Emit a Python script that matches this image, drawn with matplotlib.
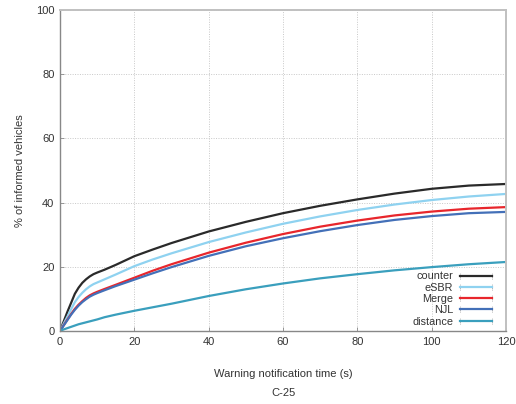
import matplotlib
matplotlib.use("Agg")
import matplotlib.pyplot as plt
from matplotlib.lines import Line2D
from matplotlib.legend_handler import HandlerBase

plt.rcParams['font.family'] = ['Liberation Sans', 'DejaVu Sans']

t = [0, 1, 2, 3, 4, 5, 6, 7, 8, 9, 10, 12, 15, 20, 25, 30, 40, 50, 60, 70, 80, 90, 100, 110, 120]
counter = [0, 3.0, 6.0, 8.8, 11.6, 13.5, 15.0, 16.1, 17.0, 17.7, 18.2, 19.1, 20.6, 23.3, 25.4, 27.4,
           31.0, 34.0, 36.7, 39.0, 41.0, 42.8, 44.3, 45.3, 45.8]
esbr = [0, 2.3, 4.5, 6.8, 9.0, 10.6, 11.9, 13.0, 13.9, 14.6, 15.1, 16.1, 17.6, 20.2, 22.3, 24.2,
        27.7, 30.7, 33.4, 35.7, 37.7, 39.4, 40.8, 41.9, 42.7]
merge = [0, 1.8, 3.6, 5.3, 6.9, 8.2, 9.3, 10.3, 11.1, 11.7, 12.2, 13.1, 14.4, 16.6, 18.8, 20.8,
         24.4, 27.5, 30.2, 32.5, 34.4, 36.0, 37.2, 38.1, 38.6]
njl = [0, 1.7, 3.4, 5.1, 6.6, 7.9, 9.0, 9.9, 10.7, 11.3, 11.8, 12.7, 14.0, 16.0, 18.0, 19.9,
       23.4, 26.4, 28.9, 31.1, 33.0, 34.6, 35.8, 36.7, 37.1]
distance = [0, 0.5, 0.9, 1.3, 1.7, 2.1, 2.4, 2.7, 3.0, 3.3, 3.6, 4.3, 5.1, 6.3, 7.4, 8.5,
            10.9, 13.0, 14.8, 16.4, 17.7, 18.9, 19.9, 20.8, 21.5]

series = [("counter", counter, "#2a2a2a"),
          ("eSBR", esbr, "#8fd2f0"),
          ("Merge", merge, "#e8262c"),
          ("NJL", njl, "#4370b8"),
          ("distance", distance, "#3a9fbd")]

xticks = [0, 20, 40, 60, 80, 100, 120]
yticks = [0, 20, 40, 60, 80, 100]


class CapHandler(HandlerBase):
    def create_artists(self, legend, orig_handle, xdescent, ydescent, width, height, fontsize, trans):
        y = height / 2 - ydescent
        x0, x1 = -xdescent, -xdescent + width
        main = Line2D([x0, x1], [y, y], color=orig_handle.get_color(), lw=orig_handle.get_linewidth(),
                      transform=trans)
        h = height * 0.4
        c1 = Line2D([x0, x0], [y - h, y + h], color="#999999", lw=0.6, ls=(0, (1, 1)), transform=trans)
        c2 = Line2D([x1, x1], [y - h, y + h], color="#999999", lw=0.6, ls=(0, (1, 1)), transform=trans)
        return [c1, c2, main]


fig = plt.figure(figsize=(5.16, 4.04), dpi=100)
ax = fig.add_axes([60 / 516, 1 - 331 / 404, 446 / 516, 321 / 404])

handles = []
for name, vals, col in series:
    ln, = ax.plot(t, vals, color=col, lw=1.6, label=name, solid_capstyle='round')
    handles.append(ln)

ax.set_xlim(0, 120)
ax.set_ylim(0, 100)
ax.set_xticks(xticks)
ax.set_yticks(yticks)
ax.grid(True, color="#c8c8c8", ls=(0, (1, 1.5)), lw=0.7)
ax.set_axisbelow(True)
ax.tick_params(direction='in', length=3, width=0.6, color="#888888", labelsize=8,
               labelcolor="#333333", pad=4)

for s in ['left', 'bottom']:
    ax.spines[s].set_color("#888888")
    ax.spines[s].set_linewidth(1.0)
for s in ['top', 'right']:
    ax.spines[s].set_color("#c0c0c0")
    ax.spines[s].set_linewidth(1.4)

ax.set_ylabel("% of informed vehicles", fontsize=8, color="#333333", labelpad=8)
ax.set_xlabel("Warning notification time (s)", fontsize=8, color="#333333", labelpad=16)
fig.text(283 / 516, 1 - 393 / 404, "C-25", fontsize=8, color="#333333", ha='center', va='center')

leg = ax.legend(handles=handles, handler_map={Line2D: CapHandler()}, loc='lower right',
                bbox_to_anchor=(0.985, -0.008), frameon=False, markerfirst=False,
                fontsize=7.8, handlelength=3.0, handletextpad=0.6, labelspacing=0.12,
                borderaxespad=0.25, handleheight=0.7)
for txt in leg.get_texts():
    txt.set_color("#333333")

fig.savefig("out.png", dpi=100)
